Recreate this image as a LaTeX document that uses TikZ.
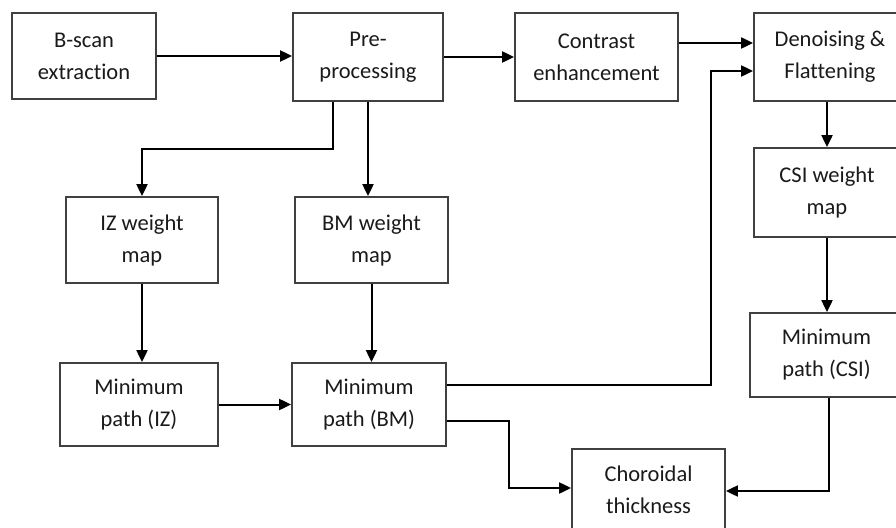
\documentclass[tikz,border=0pt]{standalone}
\usepackage{fontspec}
\setmainfont{Carlito}[Ligatures=NoCommon]
\usetikzlibrary{arrows.meta,calc}
\definecolor{boxline}{HTML}{404040}
\definecolor{txt}{HTML}{1a1a1a}
\begin{document}
\begin{tikzpicture}[x=1pt,y=-1pt,
  box/.style={draw=boxline,line width=1.8pt,align=center,inner sep=0pt,
    font=\fontsize{22.5}{32}\selectfont,text=txt},
  conn/.style={line width=2pt,-{Triangle[length=12pt,width=11pt]}}]
\useasboundingbox (0,0) rectangle (896,527);
\clip (0,0) rectangle (896,527);
\fill[white] (0,0) rectangle (896,527);
\node[box,minimum width=144pt,minimum height=86pt] (bscan) at (84,56) {B-scan\\extraction};
\node[box,minimum width=150pt,minimum height=88pt] (pre) at (368,57) {Pre-\\processing};
\node[box,minimum width=163pt,minimum height=88pt] (contrast) at (596.5,57) {Contrast\\enhancement};
\node[box,minimum width=152pt,minimum height=88pt] (denoise) at (830,57) {Denoising \&\\Flattening};
\node[box,minimum width=146pt,minimum height=89pt] (csi) at (827,192.5) {CSI weight\\map};
\node[box,minimum width=153pt,minimum height=84pt] (mincsi) at (826.5,355) {Minimum\\path (CSI)};
\node[box,minimum width=152pt,minimum height=86pt] (iz) at (142,240) {IZ weight\\map};
\node[box,minimum width=153pt,minimum height=86pt] (bmw) at (371.5,240) {BM weight\\map};
\node[box,minimum width=158pt,minimum height=83pt] (miniz) at (139,404.5) {Minimum\\path (IZ)};
\node[box,minimum width=154pt,minimum height=83pt] (minbm) at (369,404.5) {Minimum\\path (BM)};
\node[box,minimum width=153pt,minimum height=82pt] (chor) at (648.5,490) {Choroidal\\thickness};

\draw[conn] (bscan.east) -- (bscan.east -| pre.west);
\draw[conn] (pre.east) -- (contrast.west);
\draw[conn] ([yshift=14pt]contrast.east) -- ([yshift=14pt]denoise.west);
\draw[conn] ([yshift=20pt]minbm.east) -- ++(264,0) |- ([yshift=-14pt]denoise.west);
\draw[conn] ([xshift=-35pt]pre.south) -- ++(0,47) -| (iz.north);
\draw[conn] (pre.south) -- (pre.south |- bmw.north);
\draw[conn] (iz.south) -- (iz.south |- miniz.north);
\draw[conn] (bmw.south) -- (bmw.south |- minbm.north);
\draw[conn] (miniz.east) -- (minbm.west);
\draw[conn] ([yshift=-16.5pt]minbm.east) -- ++(62,0) |- ([yshift=2pt]chor.west);
\draw[conn] ([xshift=2.5pt]mincsi.south) |- ([yshift=-1pt]chor.east);
\draw[conn] (denoise.south -| csi.north) -- (csi.north);
\draw[conn] (csi.south) -- (csi.south |- mincsi.north);
\end{tikzpicture}
\end{document}
